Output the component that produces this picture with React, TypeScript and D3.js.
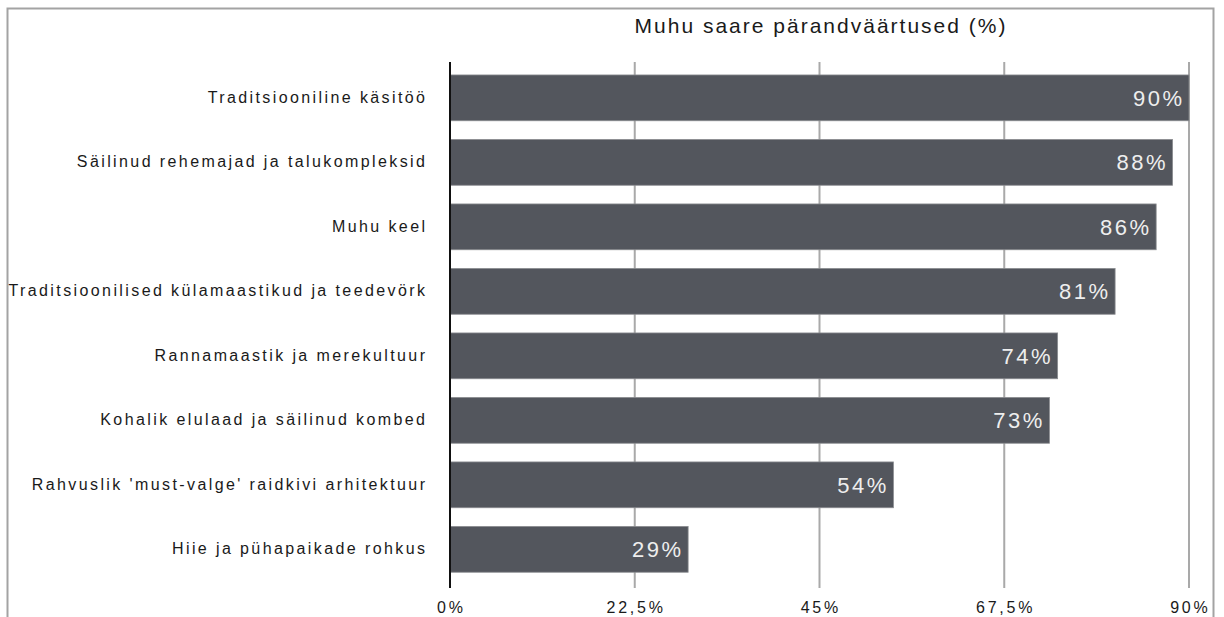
import React from "react";
import * as d3 from "d3";

const categories = [
  "Traditsiooniline käsitöö",
  "Säilinud rehemajad ja talukompleksid",
  "Muhu keel",
  "Traditsioonilised külamaastikud ja teedevörk",
  "Rannamaastik ja merekultuur",
  "Kohalik elulaad ja säilinud kombed",
  "Rahvuslik 'must-valge' raidkivi arhitektuur",
  "Hiie ja pühapaikade rohkus",
];
const values = [90, 88, 86, 81, 74, 73, 54, 29];
const ticks = [0, 22.5, 45, 67.5, 90];
const tickLabels = ["0%", "22,5%", "45%", "67,5%", "90%"];
const title = "Muhu saare pärandväärtused (%)";

const W = 1224;
const H = 617;
const FONT = "'Liberation Sans', Arial, Helvetica, sans-serif";

export default function App() {
  const x = d3.scaleLinear().domain([0, 90]).range([450, 1189]);
  const y = d3
    .scaleBand<string>()
    .domain(categories)
    .range([64, 64 + 64.9 * 8])
    .paddingInner(0.29)
    .paddingOuter(0.17);
  const gridTop = 62;
  const gridBottom = 588;
  const labelLS = 2.4;
  const valueLS = 2.5;
  const tickLS = 2.8;
  const titleLS = 2;

  return (
    <svg
      width={W}
      height={H}
      style={{ position: "absolute", left: 0, top: 0, background: "#fff" }}
      fontFamily={FONT}
    >
      <rect x={7.5} y={8.5} width={1206} height={H} fill="none" stroke="#a3a3a3" strokeWidth={2} />
      <text
        x={820 + titleLS / 2}
        y={33}
        textAnchor="middle"
        fontSize={21}
        letterSpacing={titleLS}
        fill="#1a1a1a"
      >
        {title}
      </text>
      {ticks.slice(1).map((t) => (
        <line key={t} x1={x(t)} x2={x(t)} y1={gridTop} y2={gridBottom} stroke="#a9a9a9" strokeWidth={2} />
      ))}
      {categories.map((c, i) => (
        <g key={c}>
          <rect
            x={x(0)}
            y={y(c)!}
            width={x(values[i]) - x(0)}
            height={y.bandwidth()}
            fill="#53565d"
            stroke="#8a8c90"
            strokeWidth={0.8}
          />
          <text
            x={x(values[i]) - 7 + valueLS}
            y={y(c)! + y.bandwidth() / 2 + 8}
            textAnchor="end"
            fontSize={22}
            letterSpacing={valueLS}
            fill="#eeeeee"
          >
            {values[i]}%
          </text>
          <text
            x={425 + labelLS}
            y={y(c)! + y.bandwidth() / 2 + 5}
            textAnchor="end"
            fontSize={16}
            letterSpacing={labelLS}
            fill="#1a1a1a"
          >
            {c}
          </text>
        </g>
      ))}
      <line x1={x(0)} x2={x(0)} y1={gridTop} y2={gridBottom} stroke="#111" strokeWidth={2} />
      {ticks.map((t, i) => (
        <text
          key={t}
          x={x(t) + tickLS / 2}
          y={613}
          textAnchor="middle"
          fontSize={16}
          letterSpacing={tickLS}
          fill="#1a1a1a"
        >
          {tickLabels[i]}
        </text>
      ))}
    </svg>
  );
}
